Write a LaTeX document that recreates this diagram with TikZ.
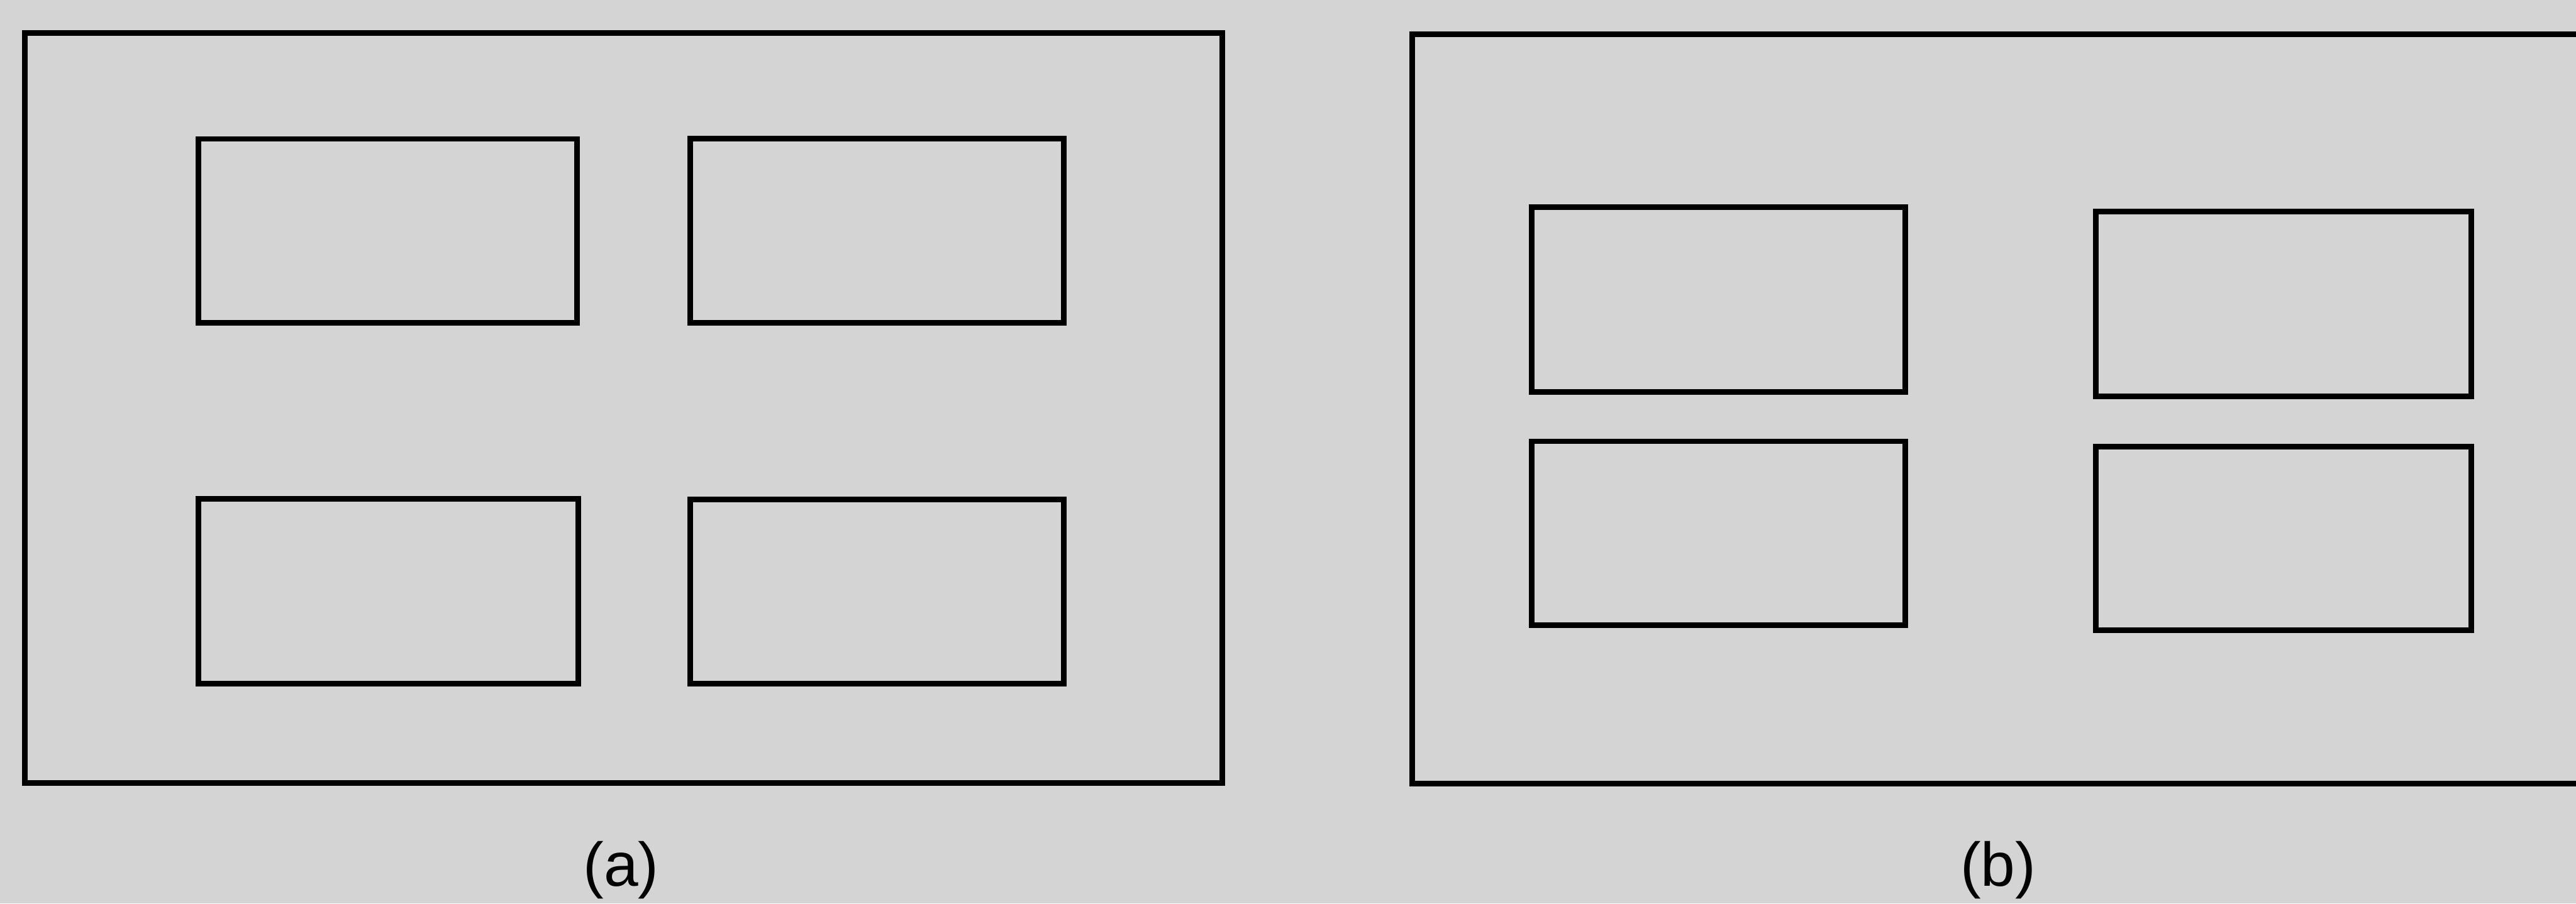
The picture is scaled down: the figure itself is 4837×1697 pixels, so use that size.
\documentclass[tikz,border=0pt]{standalone}
\usepackage{fontspec}
\setmainfont{Liberation Sans}
\usetikzlibrary{fit}
\definecolor{paper}{RGB}{212,212,212}
\tikzset{
  box/.style={draw=black, line width=3pt, inner sep=0pt, fill=none},
  caption/.style={anchor=base, inner sep=0pt, font=\fontsize{33}{38}\selectfont}
}
\begin{document}
\begin{tikzpicture}[x=0.01cm, y=-0.01cm]
\useasboundingbox (0,0) rectangle (4837,1697);
\fill[paper] (0,0) rectangle (4837,1697);
\clip (0,0) rectangle (4837,1697);
% panel (a)
\node[box, fit={(47,62) (2295,1471)}] (fa) {};
\node[box, fit={(373,261) (1084,606)}] (a1) {};
\node[box, fit={(1296,260) (1998,606)}] (a2) {};
\node[box, fit={(373,937) (1086,1284)}] (a3) {};
\node[box, fit={(1296,938) (1998,1284)}] (a4) {};
\node[caption] (la) at (1166,1664) {(a)};
% panel (b)
\node[box, fit={(2652,64) (4860,1472)}] (fb) {};
\node[box, fit={(2876,389) (3578,736)}] (b1) {};
\node[box, fit={(3935,397) (4640,745)}] (b2) {};
\node[box, fit={(2876,829) (3578,1174)}] (b3) {};
\node[box, fit={(3935,839) (4640,1184)}] (b4) {};
\node[caption] (lb) at (3752,1664) {(b)};
\end{tikzpicture}
\end{document}
